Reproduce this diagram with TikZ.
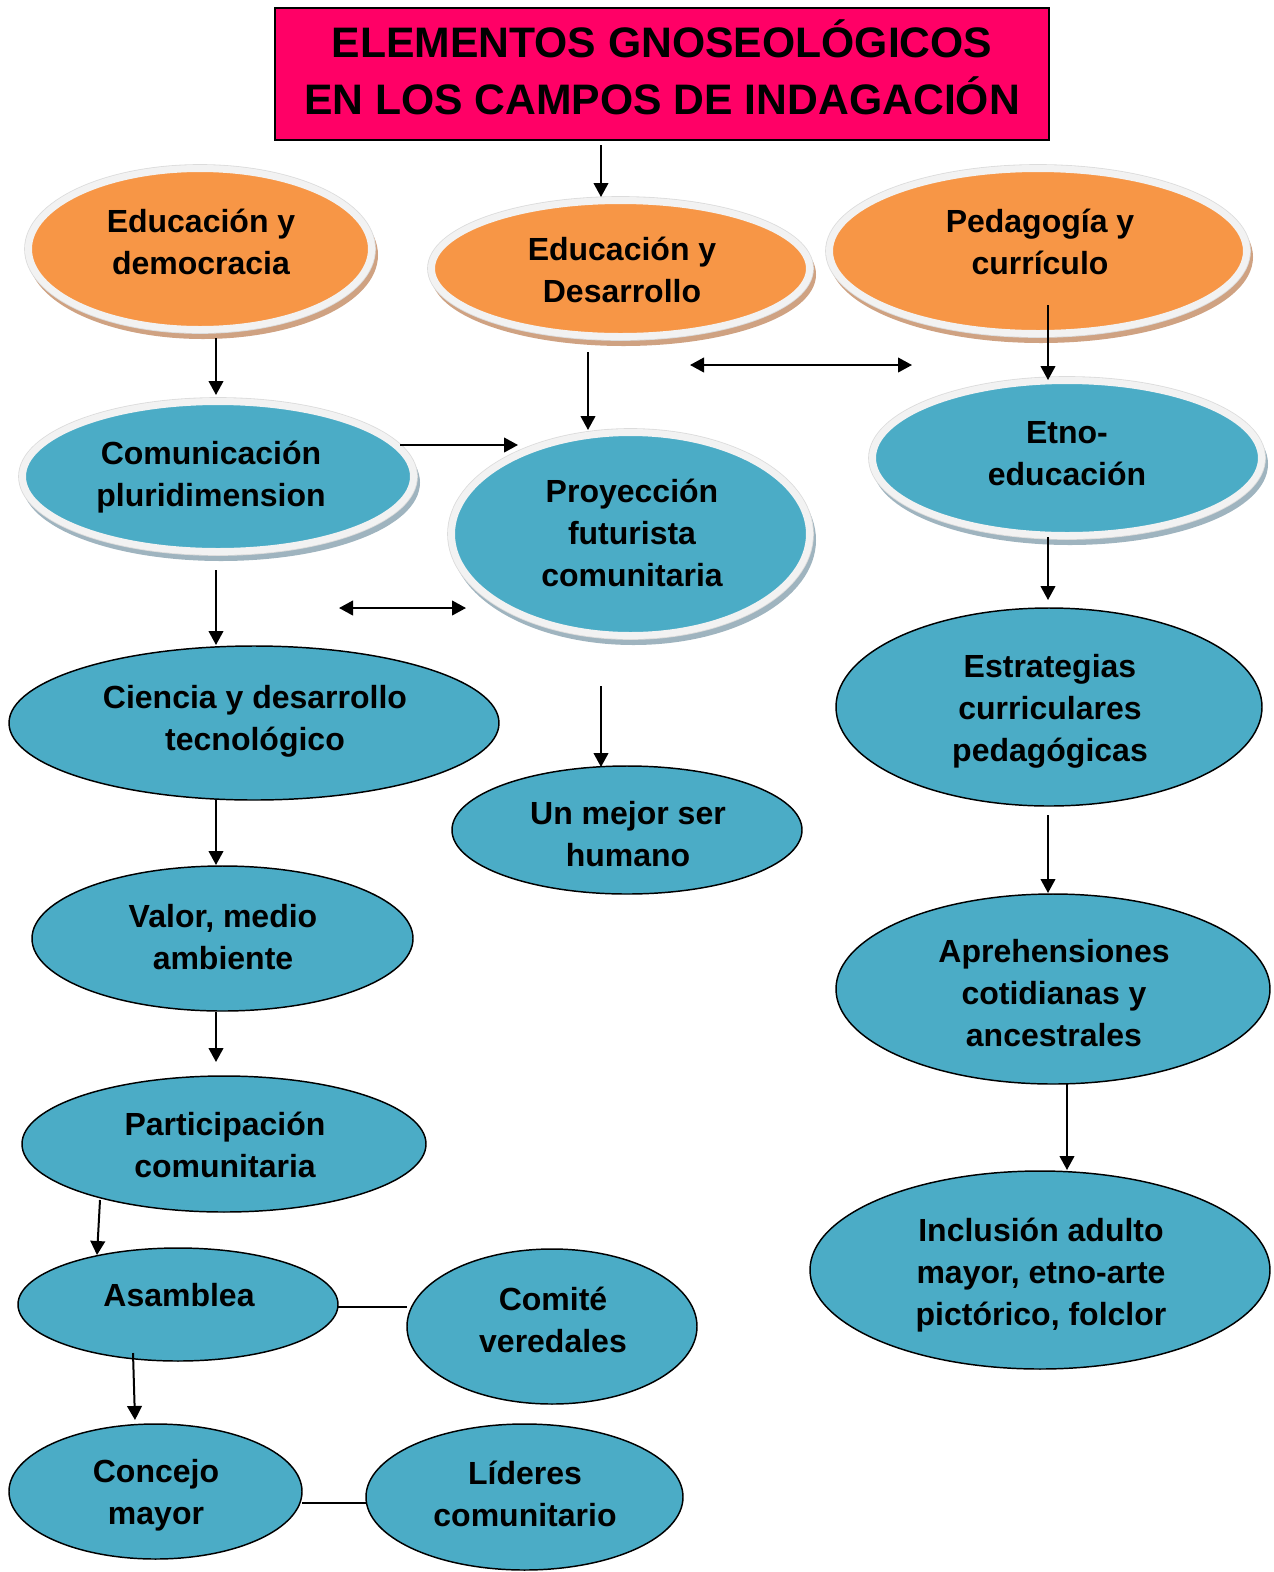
\documentclass[tikz,border=0pt]{standalone}
\usepackage{fontspec}
\setmainfont{Liberation Sans}
\usetikzlibrary{shapes.geometric,arrows.meta}
\definecolor{orng}{HTML}{F79646}
\definecolor{blu}{HTML}{4BACC6}
\definecolor{pinkt}{HTML}{FF0066}
\definecolor{ring}{HTML}{F2F2F2}
\definecolor{ringedge}{HTML}{DCDCDC}
\definecolor{shorng}{HTML}{CFA282}
\definecolor{shblu}{HTML}{9FB4BF}
\begin{document}
\begin{tikzpicture}[x=0.75pt,y=-0.75pt,
  ell/.style n args={2}{ellipse, inner sep=0pt, outer sep=0pt, minimum width=(#1)*0.75pt, minimum height=(#2)*0.75pt},
  fancy/.style n args={4}{ell={#1+7}{#2+7}, fill=#3, draw=ring, line width=5.25pt,
     preaction={draw=#4, fill=#4, transform canvas={shift={(2.25pt,-4.5pt)}}},
     preaction={draw=ringedge, line width=6.5pt}},
  fo/.style 2 args={fancy={#1}{#2}{orng}{shorng}},
  fb/.style 2 args={fancy={#1}{#2}{blu}{shblu}},
  plain/.style 2 args={ell={#1}{#2}, draw=black, line width=1.1pt, fill=blu},
  txt/.style={font=\fontsize{24}{31.5}\selectfont\bfseries, align=center, inner sep=0pt,
     execute at begin node=\strut, execute at end node=\strut},
  ttl/.style={font=\fontsize{32}{42.75}\selectfont\bfseries, align=center, inner sep=0pt,
     execute at begin node=\strut, execute at end node=\strut},
  arr/.style={line width=1.5pt, -{Triangle[length=10.5pt,width=11pt]}},
  darr/.style={line width=1.5pt, {Triangle[length=10.5pt,width=11pt]}-{Triangle[length=10.5pt,width=11pt]}},
  link/.style={line width=1.1pt}
]
\useasboundingbox (0,0) rectangle (1274,1572);

% title
\node[draw=black, line width=1pt, fill=pinkt, minimum width=774*0.75pt, minimum height=132*0.75pt, inner sep=0pt] (title) at (662,74) {};
\node[ttl] (ttitle) at (662,75.5) {ELEMENTOS GNOSEOLÓGICOS\\EN LOS CAMPOS DE INDAGACIÓN};

% fancy ellipses
\node[fo={336}{154}] (ed1) at (200,249) {};
\node[fo={371}{129}] (ed2) at (620.5,268.5) {};
\node[fo={410}{158}] (ped) at (1038,251) {};
\node[fb={384}{143}] (com) at (218,476.5) {};
\node[fb={351}{196}] (pro) at (630.5,534) {};
\node[fb={382}{148}] (etno) at (1067,458) {};

% plain ellipses
\node[plain={490}{154}] (cien) at (254,723) {};
\node[plain={350}{128}] (mejor) at (627,830) {};
\node[plain={381}{145}] (valor) at (222.5,938.5) {};
\node[plain={404}{136}] (part) at (224,1144) {};
\node[plain={320}{113}] (asam) at (178,1304.5) {};
\node[plain={290}{155}] (comite) at (552,1326.5) {};
\node[plain={293}{135}] (concejo) at (155.5,1491.5) {};
\node[plain={317}{146}] (lideres) at (524.5,1497) {};
\node[plain={426}{198}] (estr) at (1049,707) {};
\node[plain={434}{190}] (apre) at (1053,989) {};
\node[plain={460}{198}] (incl) at (1040,1270) {};

% texts
\node[txt] (ted1) at (201,248) {Educación y\\democracia};
\node[txt] (ted2) at (622,276) {Educación y\\Desarrollo};
\node[txt] (tped) at (1040,248) {Pedagogía y\\currículo};
\node[txt] (tcom) at (211,480) {Comunicación\\pluridimension};
\node[txt] (tpro) at (632,539) {Proyección\\futurista\\comunitaria};
\node[txt] (tetno) at (1067,460) {Etno-\\educación};
\node[txt] (tcien) at (255,724) {Ciencia y desarrollo\\tecnológico};
\node[txt] (tmejor) at (628,840) {Un mejor ser\\humano};
\node[txt] (tvalor) at (223,943) {Valor, medio\\ambiente};
\node[txt] (tpart) at (225,1151) {Participación\\comunitaria};
\node[txt] (tasam) at (179,1298) {Asamblea};
\node[txt] (tcomite) at (553,1326) {Comité\\veredales};
\node[txt] (tconcejo) at (156,1498) {Concejo\\mayor};
\node[txt] (tlideres) at (525,1500) {Líderes\\comunitario};
\node[txt] (testr) at (1050,714) {Estrategias\\curriculares\\pedagógicas};
\node[txt] (tapre) at (1054,999) {Aprehensiones\\cotidianas y\\ancestrales};
\node[txt] (tincl) at (1041,1278) {Inclusión adulto\\mayor, etno-arte\\pictórico, folclor};

% connector end points
\coordinate (a1s) at (601,145);   \coordinate (a1e) at (601,197);
\coordinate (a2s) at (216,338);   \coordinate (a2e) at (216,395);
\coordinate (a3s) at (588,352);   \coordinate (a3e) at (588,430);
\coordinate (d1s) at (690,365);   \coordinate (d1e) at (912,365);
\coordinate (a4s) at (1048,305);  \coordinate (a4e) at (1048,380);
\coordinate (a5s) at (400,445);   \coordinate (a5e) at (518,445);
\coordinate (d2s) at (339,608);   \coordinate (d2e) at (466,608);
\coordinate (a6s) at (216,570);   \coordinate (a6e) at (216,645);
\coordinate (a7s) at (601,686);   \coordinate (a7e) at (601,767);
\coordinate (a8s) at (216,800);   \coordinate (a8e) at (216,865);
\coordinate (a9s) at (216,1012);  \coordinate (a9e) at (216,1062);
\coordinate (a10s) at (100,1200); \coordinate (a10e) at (97,1255);
\coordinate (a11s) at (133,1353); \coordinate (a11e) at (135,1420);
\coordinate (l1s) at (338,1307);  \coordinate (l1e) at (407,1307);
\coordinate (l2s) at (302,1503);  \coordinate (l2e) at (366,1503);
\coordinate (a12s) at (1048,537); \coordinate (a12e) at (1048,600);
\coordinate (a13s) at (1048,815); \coordinate (a13e) at (1048,893);
\coordinate (a14s) at (1067,1084);\coordinate (a14e) at (1067,1170);

% connectors
\draw[arr] (a1s) -- (a1e);
\draw[arr] (a2s) -- (a2e);
\draw[arr] (a3s) -- (a3e);
\draw[darr] (d1s) -- (d1e);
\draw[arr] (a4s) -- (a4e);
\draw[arr] (a5s) -- (a5e);
\draw[darr] (d2s) -- (d2e);
\draw[arr] (a6s) -- (a6e);
\draw[arr] (a7s) -- (a7e);
\draw[arr] (a8s) -- (a8e);
\draw[arr] (a9s) -- (a9e);
\draw[arr] (a10s) -- (a10e);
\draw[arr] (a11s) -- (a11e);
\draw[link] (l1s) -- (l1e);
\draw[link] (l2s) -- (l2e);
\draw[arr] (a12s) -- (a12e);
\draw[arr] (a13s) -- (a13e);
\draw[arr] (a14s) -- (a14e);
\end{tikzpicture}
\end{document}
